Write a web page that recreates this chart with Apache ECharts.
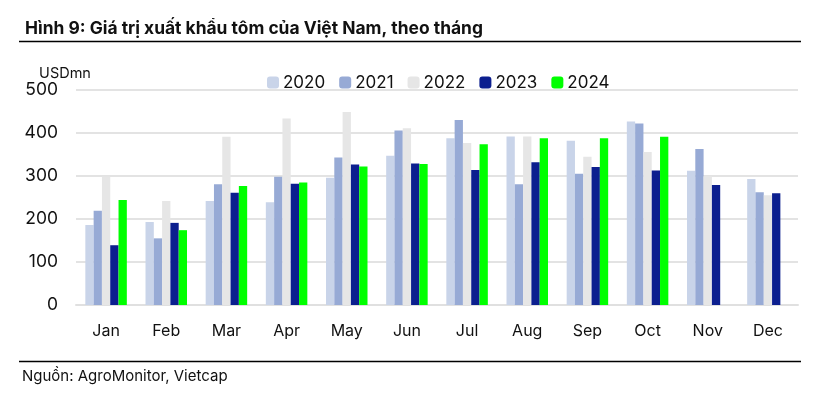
<!DOCTYPE html>
<html><head><meta charset="utf-8">
<script src="https://cdn.jsdelivr.net/npm/echarts@6/dist/echarts.min.js"></script>
<style>html,body{margin:0;padding:0;background:#fff}#c{width:823px;height:397px}</style>
</head><body><div id="c"></div>
<script>
const months = ['Jan','Feb','Mar','Apr','May','Jun','Jul','Aug','Sep','Oct','Nov','Dec'];
const years = ['2020','2021','2022','2023','2024'];
const v2020 = [186,193,242,239,296,347,388,392,382,427,312,293];
const v2021 = [219,155,281,298,343,406,430,281,305,422,363,262];
const v2022 = [298,242,391,434,449,411,377,392,345,356,300,255];
const v2023 = [139,191,261,282,327,329,314,332,321,313,279,260];
const v2024 = [244,174,277,285,322,328,374,388,388,391,null,null];
const yTicks = [0,100,200,300,400,500];
const colors = ['#c9d4e9','#97aad5','#e6e6e6','#0c1f8f','#00ff00'];
const allData = [v2020,v2021,v2022,v2023,v2024];

const chart = echarts.init(document.getElementById('c'), null, {renderer:'canvas'});
chart.setOption({
  animation:false,
  textStyle:{fontFamily:'Inter, sans-serif'},
  title:{text:'Hình 9: Giá trị xuất khẩu tôm của Việt Nam, theo tháng', left:20, top:15,
    textStyle:{fontSize:17.4, fontWeight:'bold', color:'#111', fontFamily:'Inter'}},
  legend:{top:69, left:262, itemWidth:12, itemHeight:12, itemGap:14,
    textStyle:{fontSize:17, color:'#111', padding:[0,0,0,-1]}, data:years},
  grid:{left:76, right:25, top:90, bottom:92},
  xAxis:{type:'category', data:months,
    axisLine:{lineStyle:{color:'#e0e0e0', width:2}}, axisTick:{show:false},
    axisLabel:{fontSize:16, color:'#111', margin:18}},
  yAxis:{type:'value', min:0, max:500, interval:100,
    name:'USDmn', nameLocation:'end', nameGap:5,
    nameTextStyle:{fontSize:14.5, color:'#111', align:'center', padding:[0,22,0,0]},
    axisLabel:{fontSize:17.5, color:'#111', margin:18},
    splitLine:{lineStyle:{color:'#e3e3e3', width:2}}},
  series: years.map((y,i)=>({name:y, type:'bar', data:allData[i], barWidth:8.3, barGap:'0%',
    itemStyle:{color:colors[i]}})),
  graphic:[
    {type:'line', shape:{x1:19,y1:41.5,x2:801,y2:41.5}, style:{stroke:'#000', lineWidth:1.5}},
    {type:'line', shape:{x1:19,y1:361.5,x2:801,y2:361.5}, style:{stroke:'#000', lineWidth:1.5}},
    {type:'text', left:22, top:369, style:{text:'Nguồn: AgroMonitor, Vietcap', fontSize:15, fill:'#111', fontFamily:'Inter'}}
  ]
});
</script></body></html>
